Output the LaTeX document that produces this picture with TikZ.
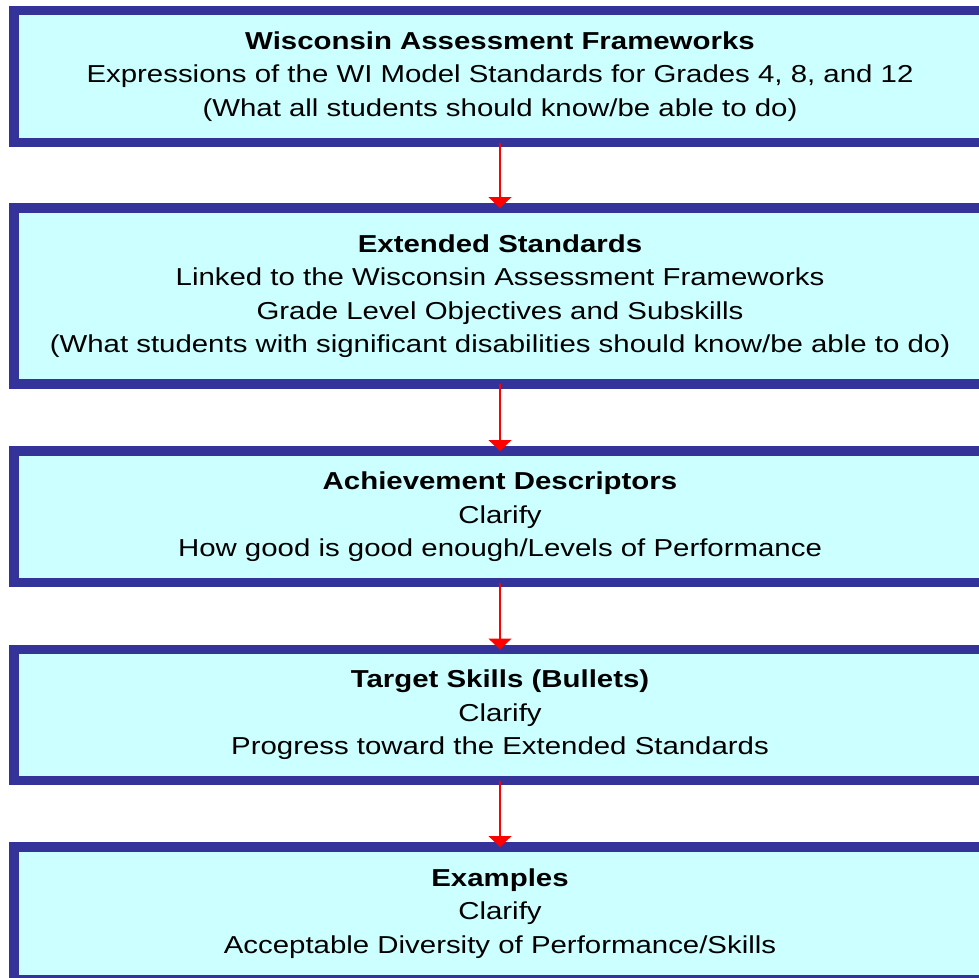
\documentclass[tikz,border=0pt]{standalone}
\usepackage{fontspec}
\setmainfont[FakeStretch=1.2]{Liberation Sans}
\usetikzlibrary{arrows.meta}

\definecolor{boxline}{HTML}{333399}
\definecolor{boxfill}{HTML}{CCFFFF}

\begin{document}
\begin{tikzpicture}[x=1pt,y=-1pt,
	level/.style={draw=boxline,fill=boxfill,line width=9.3pt,outer sep=0pt,
		minimum width=972pt,align=center,
		font=\fontsize{24.5}{33.5}\selectfont},
	link/.style={red,line width=1.3pt,-{Triangle[width=23pt,length=11pt]}}]

	\clip (0,0) rectangle (979,977);

	% the five levels, top to bottom
	\node[level,minimum height=132pt] (frameworks) at (500,76.5)
		{\textbf{Wisconsin Assessment Frameworks}\\
		 Expressions of the WI Model Standards for Grades 4, 8, and 12\\
		 (What all students should know/be able to do)};
	\node[level,minimum height=176pt] (extended) at (500,296)
		{\textbf{Extended Standards}\\
		 Linked to the Wisconsin Assessment Frameworks\\
		 Grade Level Objectives and Subskills\\
		 (What students with significant disabilities should know/be able to do)};
	\node[level,minimum height=131.5pt] (descriptors) at (500,516.75)
		{\textbf{Achievement Descriptors}\\
		 Clarify\\
		 How good is good enough/Levels of Performance};
	\node[level,minimum height=131pt] (targets) at (500,715)
		{\textbf{Target Skills (Bullets)}\\
		 Clarify\\
		 Progress toward the Extended Standards};
	\node[level,minimum height=133pt] (examples) at (500,913.5)
		{\textbf{Examples}\\
		 Clarify\\
		 Acceptable Diversity of Performance/Skills};

	\draw[link] (frameworks.south) -- (extended.north);
	\draw[link] (extended.south) -- (descriptors.north);
	\draw[link] (descriptors.south) -- (targets.north);
	\draw[link] (targets.south) -- (examples.north);
\end{tikzpicture}
\end{document}
